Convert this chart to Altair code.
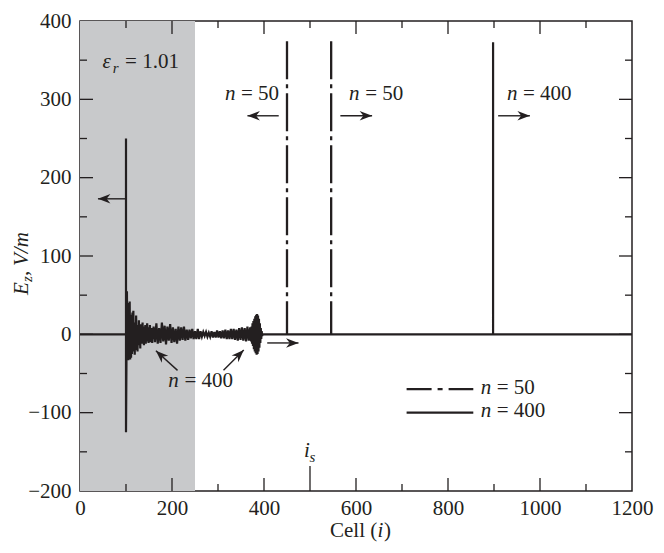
import altair as alt
import pandas as pd

# ---------------- data ----------------
# n = 400 trace: incident spike at i=100, decaying ringing, burst near i=385, pulse at i=898
n400_head_x = [0, 100, 100, 100]
n400_head_y = [0, 0, 250, -125]
n400_a_x = list(range(101, 161))
n400_a_y = [-35, 55, -30, 40, -33, 30, -28, 42, -32, 25, -30, 20, -25, 28, -22, 30, -18, 15, -26, 14,
            -20, 24, -15, 12, -22, 10, -14, 18, -12, 9, -18, 13, -10, 8, -12, 15, -10, 7, -14, 10,
            -8, 12, -12, 6, -9, 14, -8, 7, -11, 9, -7, 12, -10, 6, -9, 8, -11, 7, -6, 10]
n400_b_x = list(range(163, 251, 3))
n400_b_y = [-10, 14, -12, 8, -11, 15, -9, 11, -13, 10, -8, 13, -11, 9, -10, 7, -12, 10, -8, 9,
            -7, 10, -8, 6, -7, 6, -5, 7, -6, 4]
n400_c_x = list(range(253, 371, 3))
n400_c_y = [-6, 7, -6, 4, -3, 3, -2, 3, -3, 2, -3, 4, -4, 3, -4, 5, -4, 4, -5, 5,
            -5, 6, -6, 5, -6, 7, -6, 7, -7, 6, -8, 8, -7, 9, -8, 8, -9, 10, -8, 9]
n400_d_x = list(range(372, 398))
n400_d_y = [-9, 10, -12, 14, -15, 17, -19, 20, -22, 23, -24, 25, -26, 26, -25, 24, -22, 20, -17, 14,
            -11, 8, -6, 4, -2, 0]
n400_tail_x = [898, 898, 898, 1200]
n400_tail_y = [0, 373, 0, 0]

# n = 50 pulses
n50_x = [450, 546]
n50_top = [374, 374]
n50_base = [0, 0]

# dielectric region (eps_r = 1.01)
region_x = [0, 250]
region_y = [-200, 400]

# axis tick labels
x_ticks = [0, 200, 400, 600, 800, 1000, 1200]
y_ticks = [-200, -100, 0, 100, 200, 300, 400]
x_tick_pos = [100, 200, 300, 400, 500, 600, 700, 800, 900, 1000, 1100]
y_tick_pos = [-150, -100, -50, 0, 50, 100, 150, 200, 250, 300, 350]

# source cell
i_s = 500

# annotations: text, x, y, size, italic
ann_text = ["ε", "r", "= 1.01",
            "n", "= 50", "n", "= 50", "n", "= 400", "n", "= 400",
            "n", "= 50", "n", "= 400", "i", "s"]
ann_x = [49, 71, 98,
         315, 350, 585, 620, 928, 963, 192, 227,
         871, 906, 871, 906, 487, 499]
ann_y = [340, 333, 340,
         299, 299, 299, 299, 299, 299, -67, -67,
         -76, -76, -106, -106, -157, -163]
ann_size = [21, 15, 21,
            21, 21, 21, 21, 21, 21, 21, 21,
            21, 21, 21, 21, 21, 15]
ann_italic = [1, 1, 0,
              1, 0, 1, 0, 1, 0, 1, 0,
              1, 0, 1, 0, 1, 1]

# arrows: tail -> tip, heading (deg, clockwise from +x on screen)
arr_x0 = [100, 432, 566, 909, 407, 212, 312]
arr_y0 = [173, 279, 279, 279, -11, -46, -46]
arr_x1 = [39, 364, 635, 978, 475, 165, 356]
arr_y1 = [173, 279, 279, 279, -11, -21, -20]
arr_ang = [180, 180, 0, 0, 0, 223, 315]

# legend samples
leg_x = [710, 855]
leg_y = [-70, -100]

# ---------------- build ----------------
FONT = "Liberation Serif"
INK = "#231f20"
W, H = 552, 470
PX_PER_X = W / 1200
PX_PER_Y = H / 600

xs = alt.Scale(domain=[0, 1200], nice=False, zero=False)
ys = alt.Scale(domain=[-200, 400], nice=False, zero=False)
xaxis = alt.Axis(values=x_ticks, title=None, ticks=False, domain=False, grid=False, format="d",
                 labelFont=FONT, labelFontSize=21, labelColor=INK, labelPadding=6,
                 labelFlush=False, labelOverlap=False)
yaxis = alt.Axis(values=y_ticks, title=None, ticks=False, domain=False, grid=False, format="d",
                 labelFont=FONT, labelFontSize=21, labelColor=INK, labelPadding=9,
                 labelOverlap=False)


def X(f):
    return alt.X(f, type="quantitative", scale=xs, axis=xaxis)


def Y(f):
    return alt.Y(f, type="quantitative", scale=ys, axis=yaxis)


trace_x = n400_head_x + n400_a_x + n400_b_x + n400_c_x + n400_d_x + n400_tail_x
trace_y = n400_head_y + n400_a_y + n400_b_y + n400_c_y + n400_d_y + n400_tail_y
trace = pd.DataFrame({"x": trace_x, "y": trace_y, "i": range(len(trace_x))})

region = pd.DataFrame({"x0": [region_x[0]], "x1": [region_x[1]],
                       "y0": [region_y[0]], "y1": [region_y[1]]})

# inward tick marks on all four sides
maj_y_len, min_y_len = 13 / PX_PER_Y, 7 / PX_PER_Y
maj_x_len, min_x_len = 13 / PX_PER_X, 7 / PX_PER_X
rows = []
for v in x_tick_pos:
    major = v % 200 == 0
    L = maj_y_len if major else min_y_len
    Lb = 25 / PX_PER_Y if v == i_s else L
    rows.append((v, -200, v, -200 + Lb))
    rows.append((v, 400, v, 400 - L))
for v in y_tick_pos:
    major = v % 100 == 0
    L = maj_x_len if major else min_x_len
    rows.append((0, v, L, v))
    rows.append((1200, v, 1200 - L, v))
ticks = pd.DataFrame(rows, columns=["x", "y", "x2", "y2"])

n50 = pd.DataFrame({"x": n50_x, "top": n50_top, "base": n50_base})
ann = pd.DataFrame({"t": ann_text, "x": ann_x, "y": ann_y, "s": ann_size, "it": ann_italic})
arrows = pd.DataFrame({"x0": arr_x0, "y0": arr_y0, "x1": arr_x1, "y1": arr_y1, "a": arr_ang})
leg = pd.DataFrame({"x0": [leg_x[0]] * 2, "x1": [leg_x[1]] * 2, "y": leg_y, "k": [0, 1]})

layers = []
layers.append(alt.Chart(region).mark_rect(color="#c8c9cb").encode(
    x=X("x0"), x2="x1", y=Y("y0"), y2="y1"))
layers.append(alt.Chart(ticks).mark_rule(color=INK, strokeWidth=1.3).encode(
    x=X("x"), y=Y("y"), x2="x2", y2="y2"))
layers.append(alt.Chart(trace).mark_line(color=INK, strokeWidth=2.2, strokeJoin="miter").encode(
    x=X("x"), y=Y("y"), order="i:Q"))
layers.append(alt.Chart(n50).mark_rule(color=INK, strokeWidth=2.3, strokeDash=[38, 5, 4, 5]).encode(
    x=X("x"), y=Y("top"), y2="base"))
layers.append(alt.Chart(arrows).mark_rule(color=INK, strokeWidth=1.4).encode(
    x=X("x0"), y=Y("y0"), x2="x1", y2="y1"))
layers.append(alt.Chart(arrows).mark_point(
    shape="M0,0 L-1,-0.38 L-0.7,0 L-1,0.38 Z", filled=True, size=620, color=INK,
    opacity=1, strokeWidth=0).encode(
    x=X("x1"), y=Y("y1"), angle=alt.Angle("a:Q", scale=None)))
layers.append(alt.Chart(leg).transform_filter("datum.k == 0").mark_rule(
    color=INK, strokeWidth=2.3, strokeDash=[25, 6, 5, 6]).encode(
    x=X("x0"), x2="x1", y=Y("y")))
layers.append(alt.Chart(leg).transform_filter("datum.k == 1").mark_rule(
    color=INK, strokeWidth=2.3).encode(
    x=X("x0"), x2="x1", y=Y("y")))
for it, style in [(1, "italic"), (0, "normal")]:
    layers.append(alt.Chart(ann).transform_filter(f"datum.it == {it}").mark_text(
        font=FONT, fontStyle=style, align="left", baseline="alphabetic", color=INK).encode(
        x=X("x"), y=Y("y"), text="t:N", size=alt.Size("s:Q", scale=None)))

# axis titles with mixed italic / subscript (pixel positions relative to plot)
one = pd.DataFrame({"k": [0]})
title_pieces = [
    ("Cell (", 250, 516, 21, "normal", 0),
    ("i", 297.5, 516, 21, "italic", 0),
    (")", 304, 516, 21, "normal", 0),
    ("E", -52, 274, 21, "italic", 270),
    ("z", -48, 261, 15, "italic", 270),
    (",", -52, 255, 21, "normal", 270),
    ("V/m", -52, 245, 21, "italic", 270),
]
for t, px, py, sz, st, ang in title_pieces:
    layers.append(alt.Chart(one).mark_text(
        font=FONT, fontSize=sz, fontStyle=st, align="left", baseline="alphabetic",
        color=INK, angle=ang).encode(
        x=alt.value(px), y=alt.value(py), text=alt.value(t)))

chart = alt.layer(*layers).properties(
    width=W, height=H,
    autosize=alt.AutoSizeParams(type="none"),
    padding={"left": 72, "top": 13, "right": 24, "bottom": 52},
    background="white",
).configure_view(stroke=INK, strokeWidth=1.5)

chart.save("out.html", embed_options={"renderer": "svg", "actions": False})
